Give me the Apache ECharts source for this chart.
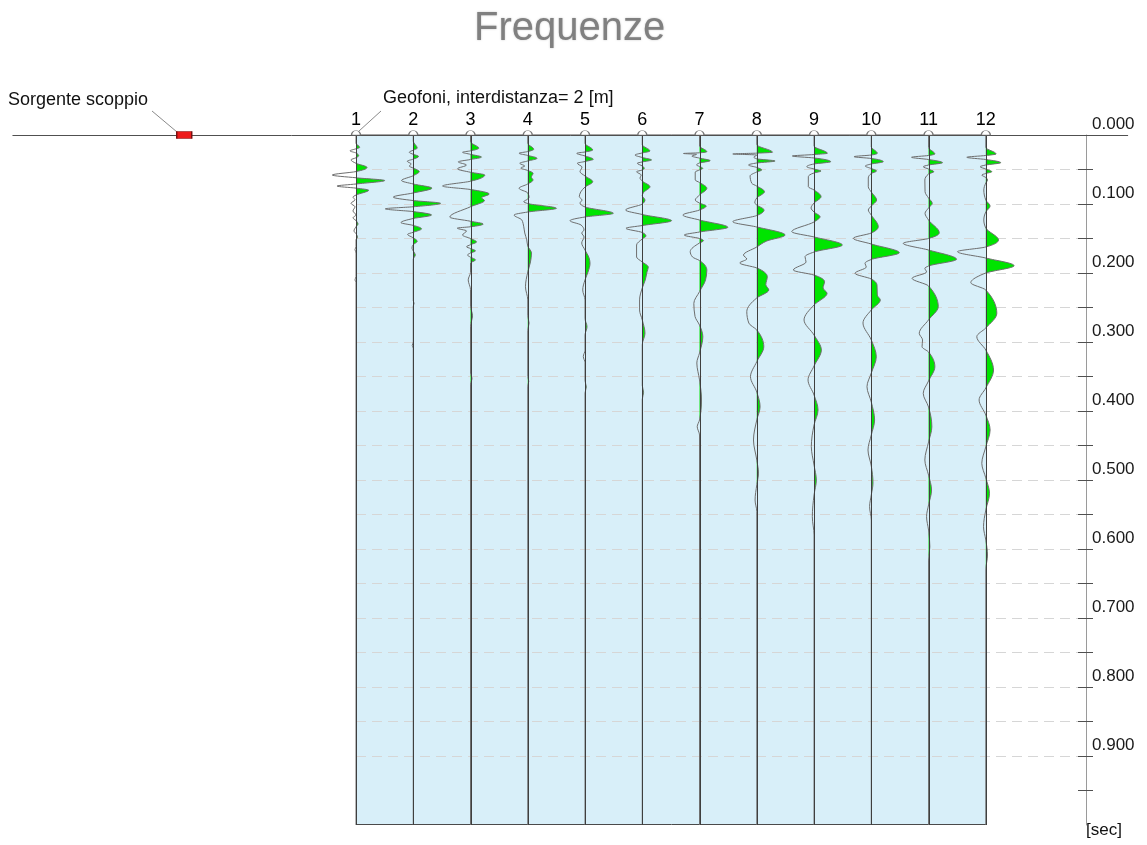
<!DOCTYPE html>
<html>
<head>
<meta charset="utf-8">
<title>Frequenze</title>
<script src="https://cdn.jsdelivr.net/npm/echarts@6/dist/echarts.min.js"></script>
<style>
  html, body { margin: 0; padding: 0; background: #fff; }
  #chart { width: 1147px; height: 845px; }
</style>
</head>
<body>
<div id="chart"></div>
<script>
// geophone spread (positions in geophone spacings, 2 m each)
const geophones = ["1", "2", "3", "4", "5", "6", "7", "8", "9", "10", "11", "12"];
const geophonePos = [1, 2, 3, 4, 5, 6, 7, 8, 9, 10, 11, 12];
const sourcePos = -2;
const surfaceExtent = [-5, 14.485];
const timeTicks = [0, 0.05, 0.1, 0.15, 0.2, 0.25, 0.3, 0.35, 0.4, 0.45, 0.5, 0.55, 0.6, 0.65, 0.7, 0.75, 0.8, 0.85, 0.9, 0.95];
const timeLabels = [0, 0.1, 0.2, 0.3, 0.4, 0.5, 0.6, 0.7, 0.8, 0.9];

// traces: [time ms, amplitude]
const trace1 = [[0,0],[12,0],[18,3.7],[20,0],[23,-6],[26,0],[30,2.7],[33,0],[36,-5],[41,0],[47,11],[53,0],[58,-23.7],[62,0],[66,28.7],[71,0],[74,-19],[77,0],[80,12.7],[87,0],[90,-3],[94,-1],[99,-5],[104,-1],[110,-3],[116,0],[120,-3],[124,0],[129,2],[133,0],[139,-2],[143,0],[148,1.5],[152,0],[162,0],[166,-1],[171,0],[205,0],[210,-1],[214,0],[1000,0]];
const trace2 = [[0,0],[9,0],[19,4],[22,0],[25,-4],[28,0],[31,5.3],[35,0],[38,-6],[42,-2],[45,-4],[48,0],[53,6],[59,0],[66,-11.7],[71,0],[77,18.7],[84,0],[90,-20],[95,0],[99,27.3],[104,0],[107,-28],[111,0],[116,18.3],[121,0],[127,-12.3],[131,0],[136,8.3],[141,0],[144,-5.7],[149,0],[154,4],[159,0],[164,-1.3],[168,0],[174,2],[180,0],[240,0],[244,0.8],[248,0],[300,0],[305,-1],[309,0],[1000,0]];
const trace3 = [[0,0],[10,0],[19,8.3],[23,0],[25,-8],[28,0],[32,11],[35.5,0],[39,-12.3],[43.5,-4],[49,-13],[54,0],[58,14.3],[67,0],[74,-28],[79,0],[85.5,18.7],[91,11],[95,14],[104,0],[119,-20.7],[125,0],[129,12.7],[133,0],[135,-13.3],[139,-4],[145,-8],[150,0],[155,6],[159,0],[162,-4],[164.5,0],[168,5],[171,0],[174,-3],[177,0],[181,5],[185.5,0],[199,0],[210,-2.3],[224,0],[248,0],[262,2],[277,0],[345,0],[353,1.5],[361,0],[1000,0]];
const trace4 = [[0,0],[12,0],[20.7,6],[24,0],[26.5,-8.7],[29.6,0],[33.8,9.3],[37.7,0],[41,-8],[45,-3],[47.8,-7],[51.4,0],[55.5,5.3],[61,3.5],[65.2,5.3],[71,0],[77.2,-8.7],[84,0],[90.3,1.3],[92.8,0],[96.7,-4],[99.3,0],[106.2,28.7],[111.6,0],[116,-13.7],[123,-6],[133,-4],[142,-3],[152,-1],[161,0],[171,3.7],[184,2.7],[198.6,0],[220,-2.3],[239,0],[262,0],[272.5,1.3],[283,0],[350,0],[357,1],[364,0],[1000,0]];
const trace5 = [[0,0],[12,0],[21.7,7.7],[24.6,0],[26.5,-8.3],[30.4,0],[35.2,8.3],[38.4,0],[41,-7.7],[46.4,-3],[53.2,-5],[59.4,0],[67.7,7.7],[75.4,0],[89.4,-5.7],[94.2,-3],[98.6,-5],[104.3,0],[113.5,28.3],[118.8,0],[124.2,-15],[130.4,-4],[137.7,-1],[142,-3.3],[147.8,-1],[156.5,-3.3],[166.7,0],[178,4],[186,5],[198.5,3],[210,0],[224.6,-2.3],[239,0],[266,0],[277.8,2],[290,0],[312,0],[321,-1.7],[330,0],[356,0],[365,1.3],[374,0],[1000,0]];
const trace6 = [[0,0],[14,0],[23.2,7.7],[26,0],[29,-7.3],[32.6,0],[36.2,9.3],[39,0],[41,-5],[44.9,0],[48.3,2],[50.7,0],[53.2,-5.7],[58,-1],[62.3,-2.3],[66.7,0],[75,7.7],[83,1.5],[88,0],[94.2,2.7],[100,0],[108.7,-16.7],[115.2,0],[124.2,29.3],[131.2,0],[135.2,-16.3],[141.3,0],[146.4,3.7],[150.7,0],[159.4,-5.7],[176.8,-5.7],[184,0],[191.3,6],[198.5,4.7],[210,3],[221.7,0],[239,-2.7],[253.6,-2.7],[268,0],[287.4,2.7],[304,0],[363,0],[373,1.3],[383,0],[1000,0]];
const trace7 = [[0,0],[16,0],[24.2,7.3],[25.8,0],[26.8,-16],[28,-3],[30.5,-7.7],[33.5,0],[37.2,10.7],[40.6,0],[43.5,-3],[45.6,0],[48.3,3.3],[50.7,0],[53.6,-4.3],[65.2,-4.3],[68.8,0],[77.2,7.3],[87,0],[94.2,-4.3],[98.6,0],[102.9,6.7],[108.7,0],[116,-16.7],[123.2,0],[133.8,28.3],[140.6,0],[145,-15.3],[150,0],[153.2,4],[156.5,0],[169,-9.3],[176.8,-7],[181.9,0],[195.7,7.3],[210,6],[227,0],[244,-5.7],[263,-4.5],[275.4,0],[292.3,3.3],[316,0],[330.4,-2.7],[355,0],[384,2],[413,0],[422.8,-2.3],[434.8,0],[1000,0]];
const trace8 = [[0,0],[14,0],[25,15.7],[26.3,0],[27.5,-24],[29,0],[32,-3],[34.5,0],[37.7,18.3],[40.6,0],[43.5,-8.3],[47,0],[50.7,5],[53.6,0],[59.4,-6.7],[70,-5],[74,0],[82.2,7.7],[91.3,0],[98.5,-2],[101.4,0],[108.7,7.3],[116.7,0],[125.7,-24],[133.3,0],[145,28.3],[153.6,10],[162.3,0],[174,-13.3],[179.7,-10],[185.5,-17],[192.7,0],[205.4,10.5],[217,9],[224.6,12],[236.2,0],[256.1,-10],[272.5,-8],[282.6,0],[306.8,7],[328.5,0],[350.3,-6.3],[372.5,0],[393.8,3.3],[413,0],[442,-3.3],[471,0],[490,1.7],[507,0],[529,-1.7],[546,0],[1000,0]];
const trace9 = [[0,0],[16,0],[26.5,13.3],[28.3,0],[30.4,-21.7],[33.3,0],[38.7,16.7],[42,0],[46,-7.3],[49.3,0],[52.2,7],[55,0],[60.4,-5.7],[75,-5.7],[79.7,0],[89.4,7],[98.6,0],[105.8,-3],[111.6,0],[118.4,6],[126,0],[140.1,-22.3],[147.8,0],[159.4,28.3],[169.6,0],[176.4,-9],[184,-8],[195.7,-20.7],[203,0],[212.6,10.5],[221.7,9],[229.4,13],[246.4,0],[268.1,-10],[289.9,0],[311.6,7.3],[334.8,0],[355,-6],[376.8,0],[398.6,4],[420.3,0],[451.7,-2.7],[478.3,0],[500,2.3],[521.7,0],[553.2,-1.7],[579.7,0],[1000,0]];
const trace10 = [[0,0],[17,0],[26.5,6],[29,0],[31.4,-17.3],[34,0],[38.7,12],[42,0],[45,-6],[48.6,0],[52.2,5.3],[55.8,0],[62.3,-3],[75,-3],[82.6,0],[94.2,5.3],[103,0],[108.7,-3],[116,0],[132.9,7],[142,0],[149.7,-18],[158,0],[170.6,28],[180.4,0],[186,-6.3],[191.3,-5],[200.4,-16.3],[208.7,0],[217.4,5.7],[232,6],[239.1,9],[253.6,0],[272.5,-8.3],[297,0],[321.3,5],[345,0],[364.8,-4.3],[387,0],[413,3.3],[434.8,0],[456.5,-3.3],[479.7,0],[504.3,1.7],[521.7,0],[538.7,-1.7],[558,0],[1000,0]];
const trace11 = [[0,0],[18,0],[27.5,6.3],[29.7,0],[32.3,-17],[35.5,0],[40.1,14],[43.5,0],[46,-5.3],[49.3,0],[53.2,5.3],[56.5,0],[65.2,-3.7],[82.2,-3.5],[91.3,0],[99,3.7],[105.8,0],[113.5,-3.5],[123.2,0],[141.6,10.7],[150,0],[157,-25.3],[166.7,0],[180.1,28],[189.9,0],[193.2,-3.7],[198.5,-2],[207.7,-16.5],[218.8,0],[248.8,9.7],[268,0],[287.4,-9.3],[297,-6],[306.8,-6.5],[314.5,0],[335.8,6.3],[356.5,0],[374.4,-5.3],[394.2,0],[422.8,3.3],[445,0],[471,-3.7],[492.8,0],[514.5,3],[536.2,0],[553.2,-2],[572.5,0],[596.7,1.3],[616,0],[1000,0]];
const trace12 = [[0,0],[18,0],[27.5,10.3],[29.7,0],[32.3,-19],[35.5,0],[40.1,15],[43.5,0],[46,-5.7],[49.3,0],[53.2,6],[55.8,0],[58,-4],[61.6,0],[65.2,1.7],[69.6,0],[79.7,-2],[94.2,0],[102.9,4.3],[111.6,0],[123.2,-2],[134.8,0],[152.2,12.7],[162.3,0],[169.1,-28.3],[178.3,0],[189.4,28.3],[200,0],[203,-5],[214,-15],[224.6,0],[258.4,11],[279.7,0],[292.3,-9],[311.6,0],[340.6,7.7],[366.7,0],[384,-6.7],[405.8,0],[427.5,4.3],[452,0],[475.8,-4],[497,0],[519.3,3.7],[543.5,0],[567.7,-2.3],[587,0],[608.7,1.7],[630.4,0],[1000,0]];

const traces = [trace1, trace2, trace3, trace4, trace5, trace6, trace7, trace8, trace9, trace10, trace11, trace12];
const ampScale = 1 / 57.25; // amplitude -> geophone spacings

const FONT = "'Liberation Sans', Arial, sans-serif";
const GREEN = "#00e400";

// monotone cubic through the points, time running downward
function splineSegs(pts) {
  const n = pts.length, h = [], s = [], m = [];
  for (let i = 0; i < n - 1; i++) {
    h[i] = pts[i + 1][1] - pts[i][1];
    s[i] = h[i] ? (pts[i + 1][0] - pts[i][0]) / h[i] : 0;
  }
  m[0] = s[0];
  m[n - 1] = s[n - 2];
  for (let i = 1; i < n - 1; i++) {
    const p = (s[i - 1] * h[i] + s[i] * h[i - 1]) / (h[i - 1] + h[i]);
    m[i] = (Math.sign(s[i - 1]) + Math.sign(s[i])) *
      Math.min(Math.abs(s[i - 1]), Math.abs(s[i]), 0.5 * Math.abs(p)) || 0;
  }
  const segs = [];
  for (let i = 0; i < n - 1; i++) {
    const d = h[i] / 3;
    segs.push("C" + (pts[i][0] + m[i] * d) + "," + (pts[i][1] + d) + " " +
      (pts[i + 1][0] - m[i + 1] * d) + "," + (pts[i + 1][1] - d) + " " +
      pts[i + 1][0] + "," + pts[i + 1][1]);
  }
  return segs;
}

function renderTrace(params, api) {
  const tr = traces[params.dataIndex];
  const pos = api.value(0);
  const pts = tr.map(d => api.coord([pos + d[1] * ampScale, d[0] / 1000]));
  const segs = splineSegs(pts);
  const children = [];
  // positive lobes filled
  let start = -1;
  for (let i = 0; i < tr.length; i++) {
    if (tr[i][1] === 0) {
      if (start >= 0 && i - start > 1) {
        let positive = true;
        for (let k = start + 1; k < i; k++) if (tr[k][1] < 0) positive = false;
        if (positive) {
          const d = "M" + pts[start][0] + "," + pts[start][1] + segs.slice(start, i).join("") + "Z";
          children.push({ type: "path", shape: { pathData: d }, style: { fill: GREEN, stroke: null } });
        }
      }
      start = i;
    }
  }
  children.push({
    type: "path",
    shape: { pathData: "M" + pts[0][0] + "," + pts[0][1] + segs.join("") },
    style: { fill: "none", stroke: "#6e6e6e", lineWidth: 1 }
  });
  const top = api.coord([pos, 0]);
  const bot = api.coord([pos, 1]);
  const x = Math.round(top[0]) + 0.5;
  children.push({
    type: "line",
    shape: { x1: x, y1: top[1], x2: x, y2: bot[1] },
    style: { stroke: "#3f3f3f", lineWidth: 1 }
  });
  return { type: "group", children: children };
}

const chart = echarts.init(document.getElementById("chart"), null, { renderer: "canvas" });

chart.setOption({
  animation: false,
  backgroundColor: "#fff",
  title: {
    text: "Frequenze",
    left: 469,
    top: 4,
    textStyle: {
      fontFamily: FONT, fontSize: 40, fontWeight: "normal", color: "#808080",
      textShadowColor: "rgba(140,140,140,0.5)", textShadowBlur: 2
    }
  },
  grid: { left: 356, right: 61, top: 135, bottom: 20 },
  xAxis: { type: "value", min: 1, max: 13.75, show: false },
  yAxis: [
    {
      type: "value", inverse: true, min: 0, max: 1, interval: 0.05, position: "right",
      axisLine: { show: true, lineStyle: { color: "#9a9a9a", width: 1 } },
      axisTick: { show: true, length: 7, customValues: timeTicks, lineStyle: { color: "#505050" } },
      axisLabel: {
        customValues: timeLabels,
        formatter: v => v.toFixed(3),
        margin: 6, verticalAlign: "bottom", padding: [0, 0, 2, 0],
        fontFamily: FONT, fontSize: 17, color: "#1a1a1a"
      },
      splitLine: { show: true, showMaxLine: false, lineStyle: { color: "#d6d6d6", type: [10, 6] } }
    },
    {
      type: "value", inverse: true, min: 0, max: 1, interval: 0.05, position: "right",
      axisLine: { show: false },
      axisTick: { show: true, inside: true, length: 8, customValues: timeTicks, lineStyle: { color: "#505050" } },
      axisLabel: { show: false },
      splitLine: { show: false }
    }
  ],
  graphic: [
    { type: "text", left: 8, top: 91, style: { text: "Sorgente scoppio", font: "18px " + FONT, fill: "#111" } },
    { type: "polyline", shape: { points: [[152, 111], [177, 132]] }, style: { stroke: "#8a8a8a", lineWidth: 1 } },
    { type: "text", left: 383, top: 89, style: { text: "Geofoni, interdistanza= 2 [m]", font: "18px " + FONT, fill: "#111" } },
    { type: "polyline", shape: { points: [[381, 111], [359, 131]] }, style: { stroke: "#8a8a8a", lineWidth: 1 } },
    { type: "text", left: 1086, top: 822, style: { text: "[sec]", font: "17px " + FONT, fill: "#111" } }
  ],
  series: [
    {
      // spread background
      type: "custom", z: -1, silent: true,
      data: [[geophonePos[0], 0]],
      renderItem: (params, api) => {
        const a = api.coord([geophonePos[0], 0]);
        const b = api.coord([geophonePos[geophonePos.length - 1], 1]);
        return {
          type: "rect",
          shape: { x: Math.round(a[0]) + 0.5, y: a[1], width: Math.round(b[0] - a[0]), height: b[1] - a[1] - 0.5 },
          style: { fill: "#d8eff9", stroke: "#4a4a4a", lineWidth: 1 }
        };
      }
    },
    {
      type: "custom", z: 2, silent: true,
      data: geophonePos.map(p => [p, 0]),
      encode: { x: 0, y: 1 },
      renderItem: renderTrace
    },
    {
      // ground surface
      type: "custom", z: 3, silent: true,
      data: [[surfaceExtent[0], 0]],
      renderItem: (params, api) => {
        const a = api.coord([surfaceExtent[0], 0]);
        const b = api.coord([surfaceExtent[1], 0]);
        const y = Math.round(a[1]) + 0.5;
        return {
          type: "line",
          shape: { x1: a[0], y1: y, x2: b[0], y2: y },
          style: { stroke: "#505050", lineWidth: 1 }
        };
      }
    },
    {
      type: "scatter", z: 4, clip: false, silent: true,
      data: geophonePos.map(p => [p, 0]),
      symbol: "path://M0,10 A10,10 0 0 1 20,10 Z",
      symbolSize: [9, 4.5],
      symbolOffset: [0, -2.25],
      itemStyle: { color: "#fff", borderColor: "#777", borderWidth: 1, opacity: 1 },
      label: {
        show: true, position: "top", distance: 1,
        formatter: p => geophones[p.dataIndex],
        fontFamily: FONT, fontSize: 18, color: "#000", opacity: 1
      },
      emphasis: { disabled: true }
    },
    {
      type: "scatter", z: 4, clip: false, silent: true,
      data: [[sourcePos, 0]],
      symbol: "rect", symbolSize: [15, 7],
      itemStyle: { color: "#ee1c1c", borderColor: "#7a1010", borderWidth: 1, opacity: 1 },
      emphasis: { disabled: true }
    }
  ]
});
</script>
</body>
</html>
